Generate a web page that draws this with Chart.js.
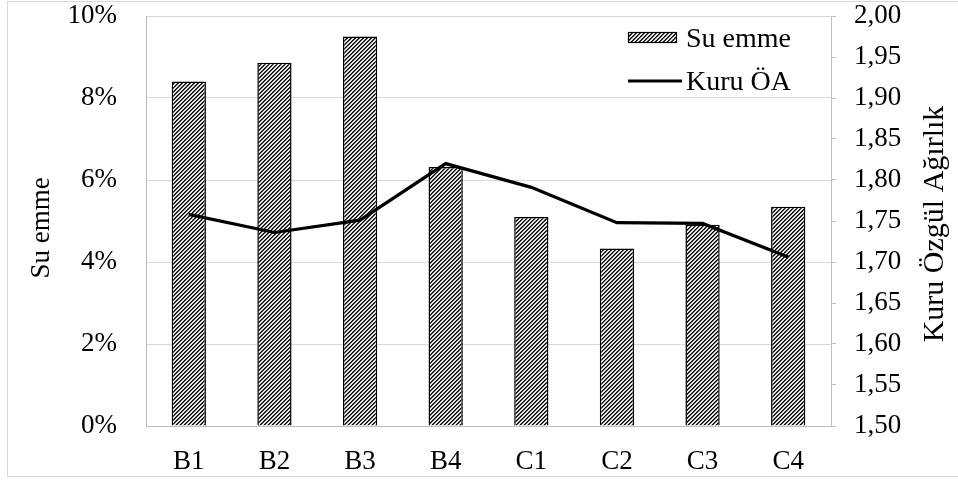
<!DOCTYPE html>
<html>
<head>
<meta charset="utf-8">
<script src="https://cdn.jsdelivr.net/npm/chart.js@4/dist/chart.umd.min.js"></script>
<style>
  html, body { margin: 0; padding: 0; background: #fff; }
  #wrap { width: 958px; height: 481px; position: relative; }
</style>
</head>
<body>
<div id="wrap"><canvas id="c" width="958" height="481"></canvas></div>
<script>
// Numune kodları
const categories = ['B1', 'B2', 'B3', 'B4', 'C1', 'C2', 'C3', 'C4'];
// Su emme (%)
const suEmme = [8.40, 8.86, 9.50, 6.32, 5.10, 4.33, 4.91, 5.35];
// Kuru özgül ağırlık
const kuruOA = [1.758, 1.736, 1.751, 1.820, 1.791, 1.748, 1.747, 1.706];
// Axis ranges
const leftAxis = { min: 0, max: 10, step: 2 };
const rightAxis = { min: 1.5, max: 2.0, step: 0.05 };
const seriesNames = ['Su emme', 'Kuru ÖA'];
const axisTitles = ['Su emme', 'Kuru Özgül Ağırlık'];

const FONT = "'Liberation Serif', 'Times New Roman', serif";
const canvas = document.getElementById('c');
const ctx = canvas.getContext('2d');

// Upward diagonal hatch fill
function makeHatch() {
  const t = document.createElement('canvas');
  t.width = 4; t.height = 4;
  const g = t.getContext('2d');
  g.fillStyle = '#fff';
  g.fillRect(0, 0, 4, 4);
  for (let x = 0; x < 4; x++) {
    for (let y = 0; y < 4; y++) {
      const k = (x + y) % 4;
      if (k === 0) { g.fillStyle = '#000'; g.fillRect(x, y, 1, 1); }
      else if (k === 1) { g.fillStyle = '#4a4a4a'; g.fillRect(x, y, 1, 1); }
      else if (k === 3) { g.fillStyle = '#d0d0d0'; g.fillRect(x, y, 1, 1); }
    }
  }
  return ctx.createPattern(t, 'repeat');
}
const hatch = makeHatch();

const framePlugin = {
  id: 'frame',
  beforeDraw(chart) {
    const c = chart.ctx;
    c.save();
    c.fillStyle = '#fff';
    c.fillRect(0, 0, chart.width, chart.height);
    c.strokeStyle = '#d9d9d9';
    c.lineWidth = 1;
    c.strokeRect(7.5, 1.5, chart.width + 10, 475);
    c.restore();
  }
};

const titlesPlugin = {
  id: 'sideTitles',
  afterDraw(chart) {
    const c = chart.ctx;
    c.save();
    c.fillStyle = '#000';
    c.textAlign = 'center';
    c.textBaseline = 'middle';
    c.font = '27px ' + FONT;
    c.translate(42, 228);
    c.rotate(-Math.PI / 2);
    c.fillText(axisTitles[0], 0, 0);
    c.restore();

    c.save();
    c.fillStyle = '#000';
    c.textAlign = 'center';
    c.textBaseline = 'middle';
    c.font = '30px ' + FONT;
    c.translate(935, 224);
    c.rotate(-Math.PI / 2);
    c.fillText(axisTitles[1], 0, 0);
    c.restore();
  }
};

const legendPlugin = {
  id: 'innerLegend',
  afterDraw(chart) {
    const c = chart.ctx;
    c.save();
    // bar swatch
    c.fillStyle = hatch;
    c.fillRect(628, 32, 49, 11);
    c.strokeStyle = '#000';
    c.lineWidth = 1.2;
    c.strokeRect(628.5, 32.5, 48, 10);
    // line swatch
    c.beginPath();
    c.moveTo(628, 81);
    c.lineTo(682, 81);
    c.lineWidth = 3;
    c.stroke();
    c.fillStyle = '#000';
    c.font = '28px ' + FONT;
    c.textAlign = 'left';
    c.textBaseline = 'middle';
    c.fillText(seriesNames[0], 686, 40);
    c.fillText(seriesNames[1], 686, 83);
    c.restore();
  }
};

function noVPad(s) { s.paddingTop = 0; s.paddingBottom = 0; }

new Chart(ctx, {
  data: {
    labels: categories,
    datasets: [
      {
        type: 'line',
        label: seriesNames[1],
        data: kuruOA,
        yAxisID: 'y1',
        borderColor: '#000',
        borderWidth: 3.2,
        tension: 0,
        pointRadius: 0,
        order: 0
      },
      {
        type: 'bar',
        label: seriesNames[0],
        data: suEmme,
        yAxisID: 'y',
        backgroundColor: hatch,
        borderColor: '#000',
        borderWidth: 1.5,
        categoryPercentage: 0.4,
        barPercentage: 1.0,
        order: 1
      }
    ]
  },
  options: {
    responsive: false,
    animation: false,
    devicePixelRatio: 1,
    layout: { padding: { top: 16, left: 0, right: 0, bottom: 0 } },
    plugins: {
      legend: { display: false },
      tooltip: { enabled: false },
      title: { display: false }
    },
    scales: {
      x: {
        grid: { display: false },
        border: { color: '#bfbfbf', width: 1 },
        ticks: { color: '#000', font: { family: FONT, size: 27 }, padding: 12, maxRotation: 0 },
        afterFit(s) { s.height = 55; s.paddingLeft = 0; s.paddingRight = 0; }
      },
      y: {
        position: 'left',
        min: leftAxis.min,
        max: leftAxis.max,
        grid: { color: '#d9d9d9', lineWidth: 1, drawTicks: false },
        border: { color: '#bfbfbf', width: 1 },
        ticks: {
          stepSize: leftAxis.step,
          color: '#000',
          font: { family: FONT, size: 27 },
          padding: 29,
          callback: v => v + '%'
        },
        afterFit(s) { s.width = 146; noVPad(s); }
      },
      y1: {
        position: 'right',
        min: rightAxis.min,
        max: rightAxis.max,
        grid: { drawOnChartArea: false, color: '#bfbfbf', tickLength: 5 },
        border: { color: '#bfbfbf', width: 1 },
        ticks: {
          stepSize: rightAxis.step,
          color: '#000',
          font: { family: FONT, size: 27 },
          padding: 18,
          callback: v => v.toFixed(2).replace('.', ',')
        },
        afterFit(s) { s.width = 127; noVPad(s); }
      }
    }
  },
  plugins: [framePlugin, titlesPlugin, legendPlugin]
});
</script>
</body>
</html>
